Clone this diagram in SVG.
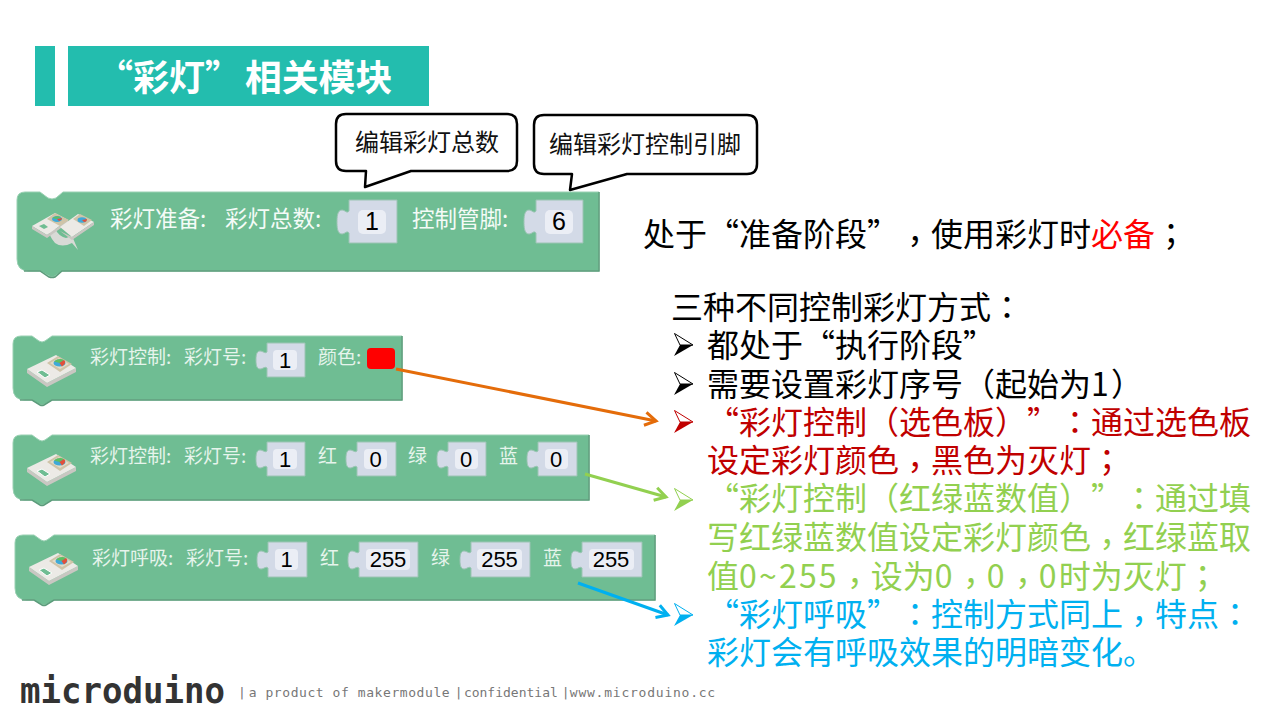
<svg xmlns="http://www.w3.org/2000/svg" xmlns:xlink="http://www.w3.org/1999/xlink" width="1280" height="720" viewBox="0 0 1280 720">
<style>
text{font-family:"Noto Sans CJK SC","Noto Sans",sans-serif;text-spacing-trim:space-all}
.p{font-family:"Noto Sans CJK TC","Noto Sans",sans-serif}
.d{letter-spacing:2.2px}
.bar{fill:#23BDAE}
.title{font-size:36px;font-weight:700;fill:#fff}
.call{fill:#fff;stroke:#000;stroke-width:2.5;stroke-linejoin:round}
.callt{font-size:24px;fill:#111}
.blk{fill:#6FBD93;stroke:#9AD1B3;stroke-width:1}
.edge{fill:none;stroke:#5C9C7B;stroke-width:1.5}
.in{fill:#D3DAE7;stroke:#9CC4B4;stroke-width:1}
.fld{fill:#EBEEF5}
.val{font-family:"Liberation Sans",Arial,sans-serif;text-anchor:middle;fill:#000}
.lb1{font-size:22.5px;fill:#F4FBF7}
.lb2{font-size:19px;fill:#E6F4EC}
.m{font-size:32px}
.k{fill:#000;color:#000}.r{fill:#C00000;color:#C00000}.g{fill:#92D050;color:#92D050}.c{fill:#00B0F0;color:#00B0F0}
.conn{fill:none;stroke-width:3}
.logo{font-family:"DejaVu Sans Mono",monospace;font-weight:700;font-size:36px;fill:#333}
.tag{font-family:"DejaVu Sans Mono",monospace;font-size:13px;fill:#777}
</style>
<defs>
<marker id="ao" markerUnits="userSpaceOnUse" markerWidth="20" markerHeight="20" refX="12" refY="10" orient="auto"><path d="M1,3.500 L12,10 L1,16.500" fill="none" stroke="#E46C0A" stroke-width="3"/></marker>
<marker id="ag" markerUnits="userSpaceOnUse" markerWidth="20" markerHeight="20" refX="12" refY="10" orient="auto"><path d="M1,3.500 L12,10 L1,16.500" fill="none" stroke="#92D050" stroke-width="3"/></marker>
<marker id="ab" markerUnits="userSpaceOnUse" markerWidth="20" markerHeight="20" refX="12" refY="10" orient="auto"><path d="M1,3.500 L12,10 L1,16.500" fill="none" stroke="#00B0F0" stroke-width="3"/></marker>
<g id="bul">
<path d="M0.500,0.500 L19,12 L6,12Z" fill="#fff" stroke="currentColor" stroke-width="1"/>
<path d="M0,23 L19,12 L6,12Z" fill="currentColor"/>
</g>
<g id="mod">
<path d="M27,373 L47,387 L76,372 L76,368 L47,383 L27,369Z" fill="#C9C7C2"/>
<path d="M27,369 L56,355 L76,368 L47,383Z" fill="#ECEAE6"/>
<path d="M37,372 L42,370 L50,375 L45,378Z" fill="#6FBD93" stroke="#FFF" stroke-width="1"/>
<path d="M47,363 L58,356 L72,364 L60,372Z" fill="#CFC4A8"/>
<path d="M50,363 L59,358 L69,364 L60,369Z" fill="#E4DCC8"/>
<ellipse cx="59.500" cy="363" rx="6" ry="3.600" fill="#3FA9D8"/>
<path d="M54,361.500 Q59,357.500 64,360 L59.500,363Z" fill="#5FBF5F"/>
<path d="M59.500,363 L64,360 Q67,363 62,366.500Z" fill="#E2503A"/>
</g>
</defs>
<rect width="1280" height="720" fill="#fff"/>

<g id="title">
<rect class="bar" x="35" y="46" width="20" height="60"/>
<rect class="bar" x="68" y="46" width="361" height="60"/>
<text class="title" x="97" y="91">“彩灯”<tspan x="245" font-size="36.800">相关模块</tspan></text>
</g>

<g id="block-prepare">
<path class="blk" d="M25,192 H40 L48,198 Q52,200 56,198 L63,192 H599 V271 H62 L55,276 Q52,278 49,276 L40,271 H29 Q17,271 17,259 V200 Q17,192 25,192Z"/>
<path class="edge" d="M24,271 H40 L49,277 Q52,278 55,277 L62,271 H599 V192"/>
<g>
<path d="M55,243 Q48,235 50,229 L55,228 Q58,236 66,238 L72,236 L78,250 L72,243 Q62,248 55,243Z" fill="#D8DAD6"/>
<path d="M32,226 L55,213 L68,220 L47,235Z" fill="#ECEAE6"/>
<path d="M32,226 L47,235 L68,220 L68,223 L47,238 L32,229Z" fill="#C9C7C2"/>
<path d="M60,227 L78,214 L94,222 L72,237Z" fill="#ECEAE6"/>
<path d="M72,237 L94,222 L94,225 L72,240 L60,231Z" fill="#C9C7C2"/>
<path d="M39,226 L44,224 L48,227 L44,229Z" fill="#6FBD93"/>
<path d="M47,219 L55,213 L69,220 L60,226Z" fill="#CFC4A8"/>
<ellipse cx="57" cy="219" rx="5" ry="3" fill="#3FA9D8"/>
<path d="M52,218 Q57,215 61,217 L57,219Z" fill="#5FBF5F"/>
<path d="M57,219 L62,218 Q62,220 59,221Z" fill="#E2503A"/>
<path d="M73,219 L80,214 L92,220 L84,226Z" fill="#CFC4A8"/>
<ellipse cx="82" cy="220" rx="4.500" ry="2.800" fill="#3FA9D8"/>
<path d="M82,220 L87,219 Q87,222 84,222Z" fill="#E2503A"/>
</g>
<text class="lb1" x="110" y="227">彩灯准备:</text>
<text class="lb1" x="225" y="227">彩灯总数:</text>
<path class="in" d="M349,200 H397 V243 H349 V233 c-2,-3 -4,1 -7,1 c-5,0 -5,-8 -5,-12 c0,-4 0,-12 5,-12 c3,0 5,4 7,1Z"/>
<rect class="fld" x="358" y="210" width="28" height="24" rx="5"/>
<text class="val" x="372" y="230" font-size="25">1</text>
<text class="lb1" x="412" y="227">控制管脚:</text>
<path class="in" d="M536,200 H583 V243 H536 V233 c-2,-3 -4,1 -7,1 c-5,0 -5,-8 -5,-12 c0,-4 0,-12 5,-12 c3,0 5,4 7,1Z"/>
<rect class="fld" x="545" y="210" width="28" height="24" rx="5"/>
<text class="val" x="559" y="230" font-size="25">6</text>
</g>

<g id="callout-count">
<path class="call" d="M346,114 H507 Q517,114 517,124 V161 Q517,171 507,171 H411 L365,187 L366,171 H346 Q336,171 336,161 V124 Q336,114 346,114Z"/>
<text class="callt" x="355" y="151">编辑彩灯总数</text>
</g>
<g id="callout-pin">
<path class="call" d="M544,115 H747 Q757,115 757,125 V164 Q757,174 747,174 H627 L570,190 L572,174 H544 Q534,174 534,164 V125 Q534,115 544,115Z"/>
<text class="callt" x="549" y="153">编辑彩灯控制引脚</text>
</g>

<g id="block-picker">
<path class="blk" d="M21,336 H32 L39,341 Q42,343 45,341 L52,336 H402 V400 H52 L45,404 Q42,406 39,404 L32,400 H25 Q13,400 13,388 V344 Q13,336 21,336Z"/>
<path class="edge" d="M20,400 H32 L40,405 Q42,406 44,405 L52,400 H402 V336"/>
<use xlink:href="#mod" href="#mod"/>
<text class="lb2" x="90" y="364">彩灯控制:</text>
<text class="lb2" x="184" y="364">彩灯号:</text>
<path class="in" d="M267,343 H305 V377 H267 V368 c-2,-2 -4,1 -7,1 c-4,0 -4,-6 -4,-9 c0,-3 0,-9 4,-9 c3,0 5,3 7,1Z"/>
<rect class="fld" x="273" y="350" width="24" height="20" rx="4"/>
<text class="val" x="285" y="368" font-size="22">1</text>
<text class="lb2" x="318" y="364">颜色:</text>
<rect x="367" y="348" width="28" height="21" rx="4" fill="#FF0000"/>
</g>

<g id="block-rgb">
<path class="blk" d="M21,435 H32 L39,440 Q42,442 45,440 L52,435 H589 V500 H52 L45,504 Q42,506 39,504 L32,500 H25 Q13,500 13,488 V443 Q13,435 21,435Z"/>
<path class="edge" d="M20,500 H32 L40,505 Q42,506 44,505 L52,500 H589 V435"/>
<use xlink:href="#mod" href="#mod" transform="translate(0,99)"/>
<text class="lb2" x="90" y="463">彩灯控制:</text>
<text class="lb2" x="184" y="463">彩灯号:</text>
<path class="in" d="M267,442 H305 V476 H267 V467 c-2,-2 -4,1 -7,1 c-4,0 -4,-6 -4,-9 c0,-3 0,-9 4,-9 c3,0 5,3 7,1Z"/>
<rect class="fld" x="273" y="449" width="24" height="20" rx="4"/>
<text class="val" x="285" y="467" font-size="22">1</text>
<text class="lb2" x="318" y="463">红</text>
<path class="in" d="M357,442 H396 V476 H357 V467 c-2,-2 -4,1 -7,1 c-4,0 -4,-6 -4,-9 c0,-3 0,-9 4,-9 c3,0 5,3 7,1Z"/>
<rect class="fld" x="364" y="449" width="23" height="20" rx="4"/>
<text class="val" x="375.500" y="467" font-size="22">0</text>
<text class="lb2" x="408" y="463">绿</text>
<path class="in" d="M448,442 H486 V476 H448 V467 c-2,-2 -4,1 -7,1 c-4,0 -4,-6 -4,-9 c0,-3 0,-9 4,-9 c3,0 5,3 7,1Z"/>
<rect class="fld" x="455" y="449" width="23" height="20" rx="4"/>
<text class="val" x="466" y="467" font-size="22">0</text>
<text class="lb2" x="499" y="463">蓝</text>
<path class="in" d="M538,442 H577 V476 H538 V467 c-2,-2 -4,1 -7,1 c-4,0 -4,-6 -4,-9 c0,-3 0,-9 4,-9 c3,0 5,3 7,1Z"/>
<rect class="fld" x="545" y="449" width="23" height="20" rx="4"/>
<text class="val" x="556" y="467" font-size="22">0</text>
</g>

<g id="block-breath">
<path class="blk" d="M23,535 H34 L41,540 Q44,542 47,540 L54,535 H655 V600 H54 L47,604 Q44,606 41,604 L34,600 H27 Q15,600 15,588 V543 Q15,535 23,535Z"/>
<path class="edge" d="M22,600 H34 L42,605 Q44,606 46,605 L54,600 H655 V535"/>
<use xlink:href="#mod" href="#mod" transform="translate(2,198)"/>
<text class="lb2" x="92" y="565">彩灯呼吸:</text>
<text class="lb2" x="186" y="565">彩灯号:</text>
<path class="in" d="M268,542 H307 V577 H268 V568 c-2,-2 -4,1 -7,1 c-4,0 -4,-6 -4,-9 c0,-3 0,-9 4,-9 c3,0 5,3 7,1Z"/>
<rect class="fld" x="275" y="549" width="23" height="21" rx="4"/>
<text class="val" x="286.500" y="567" font-size="22">1</text>
<text class="lb2" x="320" y="565">红</text>
<path class="in" d="M359,542 H418 V577 H359 V568 c-2,-2 -4,1 -7,1 c-4,0 -4,-6 -4,-9 c0,-3 0,-9 4,-9 c3,0 5,3 7,1Z"/>
<rect class="fld" x="366" y="549" width="44" height="21" rx="4"/>
<text class="val" x="388" y="567" font-size="22">255</text>
<text class="lb2" x="431" y="565">绿</text>
<path class="in" d="M471,542 H530 V577 H471 V568 c-2,-2 -4,1 -7,1 c-4,0 -4,-6 -4,-9 c0,-3 0,-9 4,-9 c3,0 5,3 7,1Z"/>
<rect class="fld" x="477" y="549" width="45" height="21" rx="4"/>
<text class="val" x="499.500" y="567" font-size="22">255</text>
<text class="lb2" x="543" y="565">蓝</text>
<path class="in" d="M582,542 H642 V577 H582 V568 c-2,-2 -4,1 -7,1 c-4,0 -4,-6 -4,-9 c0,-3 0,-9 4,-9 c3,0 5,3 7,1Z"/>
<rect class="fld" x="589" y="549" width="45" height="21" rx="4"/>
<text class="val" x="611" y="567" font-size="22">255</text>
</g>

<g id="connectors">
<path class="conn" stroke="#E46C0A" d="M396,369 L656,421" marker-end="url(#ao)"/>
<path class="conn" stroke="#92D050" d="M585,474 L666,497" marker-end="url(#ag)"/>
<path class="conn" stroke="#00B0F0" d="M578,583 L668,615" marker-end="url(#ab)"/>
</g>

<g id="notes">
<text class="m k" x="643" y="246">处于“准备阶段”<tspan class="p" dy="7">，</tspan><tspan dy="-7">使用彩灯时</tspan><tspan fill="#FF0000">必备</tspan><tspan class="p">；</tspan></text>
<text class="m k" x="671" y="319">三种不同控制彩灯方式<tspan class="p">：</tspan></text>
<use xlink:href="#bul" href="#bul" class="k" x="674" y="333"/>
<text class="m k" x="707" y="357">都处于“执行阶段”</text>
<use xlink:href="#bul" href="#bul" class="k" x="674" y="372"/>
<text class="m k" x="707" y="396">需要设置彩灯序号<tspan class="p">（</tspan>起始为<tspan class="d">1</tspan><tspan class="p">）</tspan></text>
<use xlink:href="#bul" href="#bul" class="r" x="674" y="410"/>
<text class="m r" x="707" y="434">“彩灯控制<tspan class="p">（</tspan>选色板<tspan class="p">）</tspan>”<tspan class="p">：</tspan>通过选色板</text>
<text class="m r" x="707" y="472">设定彩灯颜色<tspan class="p" dy="7">，</tspan><tspan dy="-7">黑色为灭灯</tspan><tspan class="p">；</tspan></text>
<use xlink:href="#bul" href="#bul" class="g" x="674" y="488"/>
<text class="m g" x="707" y="510">“彩灯控制<tspan class="p">（</tspan>红绿蓝数值<tspan class="p">）</tspan>”<tspan class="p">：</tspan>通过填</text>
<text class="m g" x="707" y="549">写红绿蓝数值设定彩灯颜色<tspan class="p" dy="7">，</tspan><tspan dy="-7">红绿蓝取</tspan></text>
<text class="m g" x="707" y="588">值<tspan class="d">0~255</tspan><tspan class="p" dy="7">，</tspan><tspan dy="-7">设为</tspan><tspan class="d">0</tspan><tspan class="p" dy="7">，</tspan><tspan class="d" dy="-7">0</tspan><tspan class="p" dy="7">，</tspan><tspan class="d" dy="-7">0</tspan>时为灭灯<tspan class="p">；</tspan></text>
<use xlink:href="#bul" href="#bul" class="c" x="674" y="603"/>
<text class="m c" x="707" y="626">“彩灯呼吸”<tspan class="p">：</tspan>控制方式同上<tspan class="p" dy="7">，</tspan><tspan dy="-7">特点</tspan><tspan class="p">：</tspan></text>
<text class="m c" x="707" y="664">彩灯会有呼吸效果的明暗变化。</text>
</g>

<g id="footer">
<text class="logo" x="20" y="703" textLength="205" lengthAdjust="spacingAndGlyphs">microduino</text>
<text class="tag" x="238" y="697"><tspan letter-spacing="-2.500">| </tspan><tspan letter-spacing=".570">a product of makermodule</tspan><tspan letter-spacing="-3.260"> | </tspan>confidential<tspan letter-spacing="-3.830"> | </tspan><tspan letter-spacing=".770">www.microduino.cc</tspan></text>
</g>
</svg>
